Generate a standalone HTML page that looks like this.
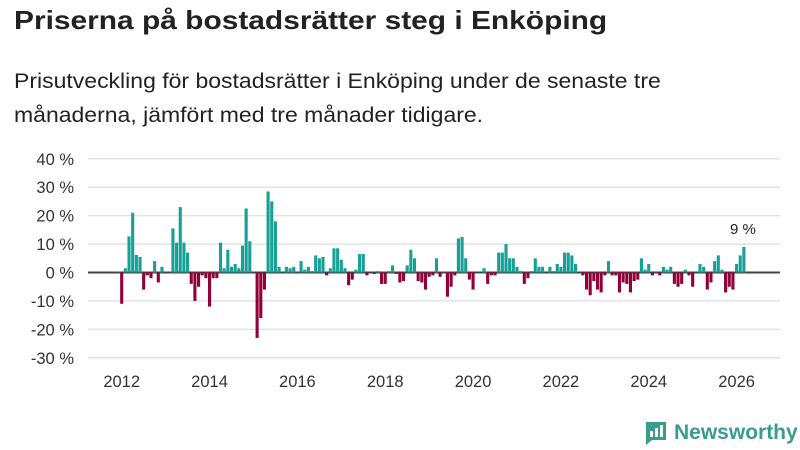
<!DOCTYPE html>
<html><head><meta charset="utf-8"><style>
body{margin:0;background:#fff;width:800px;height:450px;overflow:hidden;font-family:"Liberation Sans",sans-serif;}
#title{position:absolute;left:14px;top:5px;font-size:26px;font-weight:bold;color:#222;margin:0;transform:scaleX(1.15);transform-origin:0 0;white-space:nowrap}
#sub{position:absolute;left:14px;top:65px;font-size:21px;line-height:34px;color:#222;width:600px;transform:scaleX(1.095);transform-origin:0 0}
svg{position:absolute;left:0;top:0}
</style></head><body>
<h1 id="title">Priserna på bostadsrätter steg i Enköping</h1>
<div id="sub">Prisutveckling för bostadsrätter i Enköping under de senaste tre månaderna, jämfört med tre månader tidigare.</div>
<svg id="chart" width="800" height="450"></svg>
<script>
const values=[-11,1.5,12.7,21,6.2,5.5,-6,-1,-2,4,-3.5,2,0,0,
15.5,10.5,23,10.5,7,-4,-10,-5,-1,-2,-12,-2,-2,10.5,1.5,8,2,3,1.5,9.5,22.5,11,0,-23,-16,-6,28.5,25,18,2,0,2,1.5,2,0,4,1,2,0.5,6,5,5.5,-1,
1.5,8.5,8.5,4.5,1.5,-4.5,-2.5,1,6.5,6.5,-1,0,-0.5,0.5,-4,-4,0.5,2.5,-0.5,-3.5,-3,2.5,8,5,-3,-3.5,-6,-1.5,-1,5,-1.5,0,-8.5,-5,-1,12,12.5,5,-2.5,-6,0,0,1.5,-4,-1,-1,7,7,10,5,5,2,0.5,-4,-2,
0.5,5,2,2,0,2,0.5,3,2,7,7,6,3,0,-1,-6,-8,-3,-6,-7,-1,4,-1,-1,-7,-3.5,-4,-7,-3,-2.5,5,1,3,-1,0,-1,2,1,2,-4,-5,-4,1,-1,-5,0,3,2,-6,-3.5,4,6,1,-7,-5,-6,3,6,9];
const yTicks=[40,30,20,10,0,-10,-20,-30];
const xYears=[2012,2014,2016,2018,2020,2022,2024,2026];
const startYear=2012;
const lastLabel="9 %";
const NS="http://www.w3.org/2000/svg";
const svg=document.getElementById('chart');
const y=v=>272.5-v*2.843;
const x=i=>121.7+i*3.66;
const xYear=yr=>x((yr-startYear)*12);
function mk(t,a){const e=document.createElementNS(NS,t);for(const k in a)e.setAttribute(k,a[k]);svg.appendChild(e);return e;}
yTicks.forEach(t=>{
  const g=mk('line',{x1:88,x2:780,y1:y(t),y2:y(t),stroke:t===0?'#444':'#e3e3e3','stroke-width':t===0?2:1.5});
  
  
  const l=mk('text',{x:74,y:y(t)+6,'text-anchor':'end','font-size':16.5,fill:'#333'});
  l.textContent=t+' %';
  
  
});
values.forEach((v,i)=>{
  const r=mk('rect',{x:x(i)-1.55,width:3.1,y:Math.min(y(v),y(0)),height:Math.abs(y(v)-y(0)),fill:v>=0?'#17a096':'#930039'});
  
  
});
xYears.forEach(yr=>{
  const l=mk('text',{x:xYear(yr),y:387,'text-anchor':'middle','font-size':16.5,fill:'#333'});
  l.textContent=yr;
  
  
});
const vl=mk('text',{x:x(values.length-1)-1,y:y(values[values.length-1])-13,'text-anchor':'middle','font-size':15,fill:'#222'});
vl.textContent=lastLabel;


</script>
<div style="position:absolute;left:644px;top:420px;display:flex;align-items:center">
<svg width="24" height="26" style="position:static"><path d="M2 2h20v18H8l-6 5z" fill="#3a9c8e"/><rect x="6" y="11" width="3" height="6" fill="#fff"/><rect x="11" y="8" width="3" height="9" fill="#fff"/><rect x="16" y="5" width="3" height="12" fill="#fff"/></svg>
<span style="font-size:21px;font-weight:bold;color:#3a9c8e;margin-left:6px">Newsworthy</span></div>
</body></html>
